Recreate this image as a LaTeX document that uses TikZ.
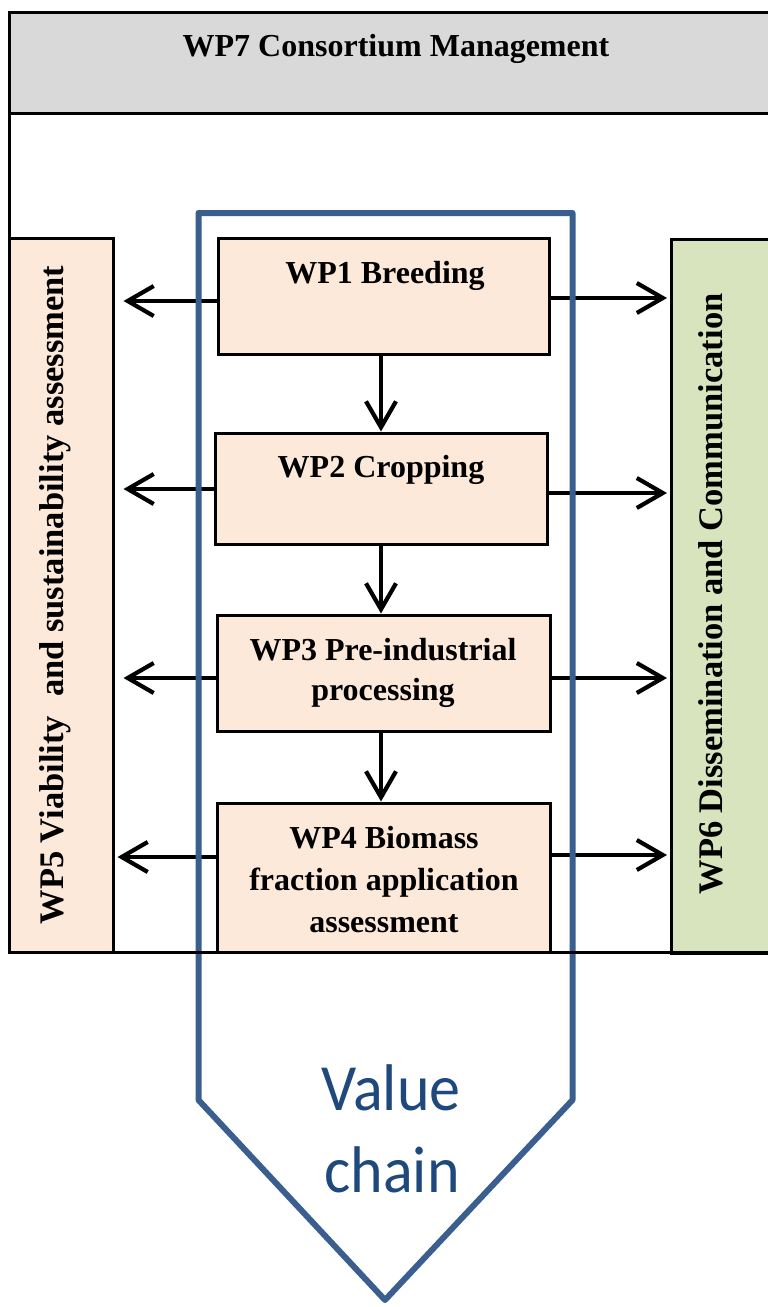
\documentclass[tikz,border=0pt]{standalone}
\usepackage{fontspec}
\setmainfont{Liberation Serif}
\newfontfamily\vcfont{Carlito}
\usetikzlibrary{arrows.meta}
\definecolor{peach}{HTML}{FDE9D9}
\definecolor{olive}{HTML}{D7E4BD}
\definecolor{hdrgray}{HTML}{D9D9D9}
\definecolor{vcblue}{HTML}{3A5F8E}
\definecolor{vctext}{HTML}{1F497D}
\tikzset{
  frameline/.style={draw=black, line width=3pt},
  wpbox/.style={draw=black, line width=3pt, fill=peach, inner sep=0pt},
  sidebox/.style={draw=black, line width=3pt, inner sep=0pt},
  wptext/.style={font=\fontsize{32}{41}\selectfont\bfseries, align=center, inner sep=0pt, anchor=base},
  sidetext/.style={font=\fontsize{34.5}{40}\selectfont\bfseries, inner sep=0pt, anchor=base, rotate=90},
  vctextstyle/.style={font=\vcfont\fontsize{66}{80}\selectfont, text=vctext, inner sep=0pt, anchor=base},
  arr/.style={draw=black, line width=4.2pt, -{Straight Barb[length=26pt,width=30pt]}},
  chain/.style={draw=vcblue, line width=6pt, line join=round}
}
\begin{document}
\begin{tikzpicture}[x=1pt,y=-1pt]
\useasboundingbox (0,0) rectangle (768,1307);
\clip (0,0) rectangle (768,1307);
% outer frame and header
\path[fill=white] (9,12) rectangle (800,952);
\path[fill=hdrgray] (9,12) rectangle (800,113);
\draw[frameline] (800,12) -- (9,12) -- (9,952) -- (800,952);
\draw[frameline] (9,113) -- (800,113);
% side boxes
\node[sidebox, fill=peach, minimum width=104pt, minimum height=714pt] (wp5) at (61,595) {};
\node[sidebox, fill=olive, minimum width=130pt, minimum height=714pt, anchor=north west] (wp6) at (670,238) {};
% work package boxes
\node[wpbox, minimum width=331pt, minimum height=116pt] (wp1) at (384,296) {};
\node[wpbox, minimum width=332pt, minimum height=111pt] (wp2) at (381,488.5) {};
\node[wpbox, minimum width=333pt, minimum height=116pt] (wp3) at (384,673) {};
\node[wpbox, minimum width=333pt, minimum height=149pt] (wp4) at (384,877.5) {};
% vertical arrows
\draw[arr] (wp1.south -| 381,0) -- (wp2.north -| 381,0);
\draw[arr] (wp2.south -| 381,0) -- (wp3.north -| 381,0);
\draw[arr] (wp3.south -| 381,0) -- (wp4.north -| 381,0);
% horizontal arrows to WP5
\draw[arr] (wp1.west |- 0,301) -- ([xshift=9pt]wp5.east |- 0,301);
\draw[arr] (wp2.west |- 0,489) -- ([xshift=9pt]wp5.east |- 0,489);
\draw[arr] (wp3.west |- 0,678) -- ([xshift=9pt]wp5.east |- 0,678);
\draw[arr] (wp4.west |- 0,857) -- ([xshift=3pt]wp5.east |- 0,857);
% horizontal arrows to WP6
\draw[arr] (wp1.east |- 0,298) -- ([xshift=-3pt]wp6.west |- 0,298);
\draw[arr] (wp2.east |- 0,493) -- ([xshift=-3pt]wp6.west |- 0,493);
\draw[arr] (wp3.east |- 0,678) -- ([xshift=-3pt]wp6.west |- 0,678);
\draw[arr] (wp4.east |- 0,855) -- ([xshift=-3pt]wp6.west |- 0,855);
% value chain outline
\coordinate (vcA) at (198.5,213);
\coordinate (vcB) at (572.5,213);
\coordinate (vcC) at (572.5,1100);
\coordinate (vcD) at (385,1300);
\coordinate (vcE) at (198.5,1100);
\draw[chain] (vcA) -- (vcB) -- (vcC) -- (vcD) -- (vcE) -- cycle;
% frame bottom line over the outline
\draw[frameline] (9,952) -- (800,952);
% texts
\node[wptext] (t7) at (396,56) {WP7 Consortium Management};
\node[wptext] (t1) at (385,283) {WP1 Breeding};
\node[wptext] (t2) at (381,477) {WP2 Cropping};
\node[wptext] (t3a) at (383,660) {WP3 Pre-industrial};
\node[wptext] (t3b) at (383,700) {processing};
\node[wptext] (t4a) at (384,848) {WP4 Biomass};
\node[wptext] (t4b) at (384,890) {fraction application};
\node[wptext] (t4c) at (384,932) {assessment};
\node[sidetext] (t5) at (63,595) {WP5 Viability\hspace{0.3em} and sustainability assessment};
\node[sidetext] (t6) at (722,594) {WP6 Dissemination and Communication};
\node[vctextstyle] (vc1) at (391,1110) {\scalebox{0.94}[1]{Value}};
\node[vctextstyle] (vc2) at (392,1192) {\scalebox{0.94}[1]{chain}};
\end{tikzpicture}
\end{document}
